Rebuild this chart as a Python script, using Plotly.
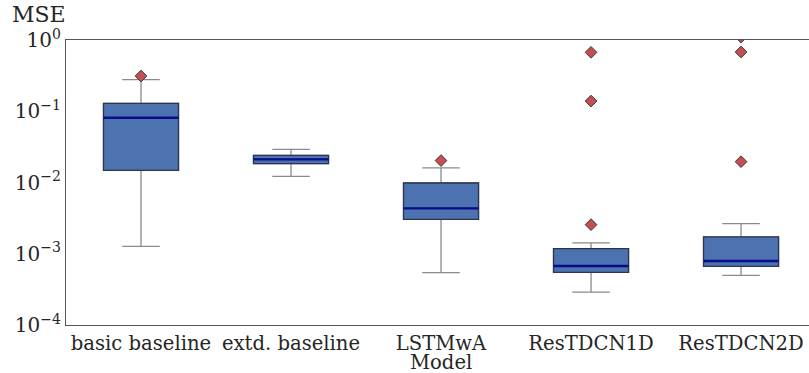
import plotly.graph_objects as go

categories = ["basic baseline", "extd. baseline", "LSTMwA", "ResTDCN1D", "ResTDCN2D"]
q1 = [0.0148, 0.0184, 0.00304, 0.000549, 0.000666]
median = [0.081, 0.0211, 0.00434, 0.000673, 0.000791]
q3 = [0.129, 0.0240, 0.00984, 0.00118, 0.00172]
lower_whisker = [0.00127, 0.0122, 0.000543, 0.000290, 0.000498]
upper_whisker = [0.277, 0.0292, 0.0160, 0.00142, 0.00264]
outlier_model = ["basic baseline", "LSTMwA", "ResTDCN1D", "ResTDCN1D", "ResTDCN1D",
                 "ResTDCN2D", "ResTDCN2D", "ResTDCN2D"]
outlier_value = [0.312, 0.0203, 0.671, 0.139, 0.00256, 1.10, 0.679, 0.0196]
ytick_vals = [1e-4, 1e-3, 1e-2, 1e-1, 1]
ytick_text = ["10<sup>−4</sup>", "10<sup>−3</sup>", "10<sup>−2</sup>", "10<sup>−1</sup>", "10<sup>0</sup>"]

FONT = "DejaVu Serif"
BOX_FILL = "#4c72b0"
TXT = "#262626"

fig = go.Figure()
# whiskers (gray)
fig.add_trace(go.Box(x=categories, q1=q1, median=median, q3=q3,
                     lowerfence=lower_whisker, upperfence=upper_whisker,
                     width=0.5, whiskerwidth=0.5, boxpoints=False,
                     fillcolor=BOX_FILL, line=dict(color="#8a8a8a", width=1.3),
                     hoverinfo="skip", showlegend=False))
# box body (dark outline)
fig.add_trace(go.Box(x=categories, q1=q1, median=median, q3=q3,
                     lowerfence=q1, upperfence=q3,
                     width=0.5, whiskerwidth=0, boxpoints=False,
                     fillcolor=BOX_FILL, line=dict(color="#2b3550", width=1.3),
                     hoverinfo="skip", showlegend=False))
# median (navy)
fig.add_trace(go.Box(x=categories, q1=median, median=median, q3=median,
                     lowerfence=median, upperfence=median,
                     width=0.5, whiskerwidth=0, boxpoints=False,
                     fillcolor="rgba(0,0,0,0)", line=dict(color="#0a0a8c", width=2.4),
                     hoverinfo="skip", showlegend=False))
# outliers
fig.add_trace(go.Scatter(x=outlier_model, y=outlier_value, mode="markers",
                         marker=dict(symbol="diamond", size=9, color="#c44e52",
                                     line=dict(color="#3a3a3a", width=1)),
                         cliponaxis=True, showlegend=False, hoverinfo="skip"))

fig.update_layout(
    width=809, height=373,
    margin=dict(l=66, r=0, t=40, b=48),
    paper_bgcolor="white", plot_bgcolor="white",
    boxmode="overlay",
    font=dict(family=FONT, size=19.6, color=TXT),
    xaxis=dict(type="category", categoryorder="array", categoryarray=categories,
               range=[-0.5, 4.453], showline=True, mirror=True, automargin=False,
               linecolor="#555555", linewidth=1.2, showgrid=False, ticks="",
               tickfont=dict(family=FONT, size=19.6, color=TXT)),
    yaxis=dict(type="log", range=[-4, 0], tickvals=ytick_vals, ticktext=ytick_text,
               showline=True, mirror=False, linecolor="#555555", linewidth=1.2,
               showgrid=False, zeroline=False, ticks="", automargin=False,
               tickfont=dict(family=FONT, size=20, color=TXT)),
    annotations=[
        dict(text="MSE", xref="paper", yref="paper", x=-0.076, y=1.0,
             xanchor="left", yanchor="top", yshift=40, showarrow=False,
             font=dict(family=FONT, size=22, color=TXT)),
        dict(text="Model", xref="paper", yref="paper", x=375 / 743, y=0.0,
             xanchor="center", yanchor="top", yshift=-24, showarrow=False,
             font=dict(family=FONT, size=19.6, color=TXT)),
    ],
)

fig.write_html("out.html")
